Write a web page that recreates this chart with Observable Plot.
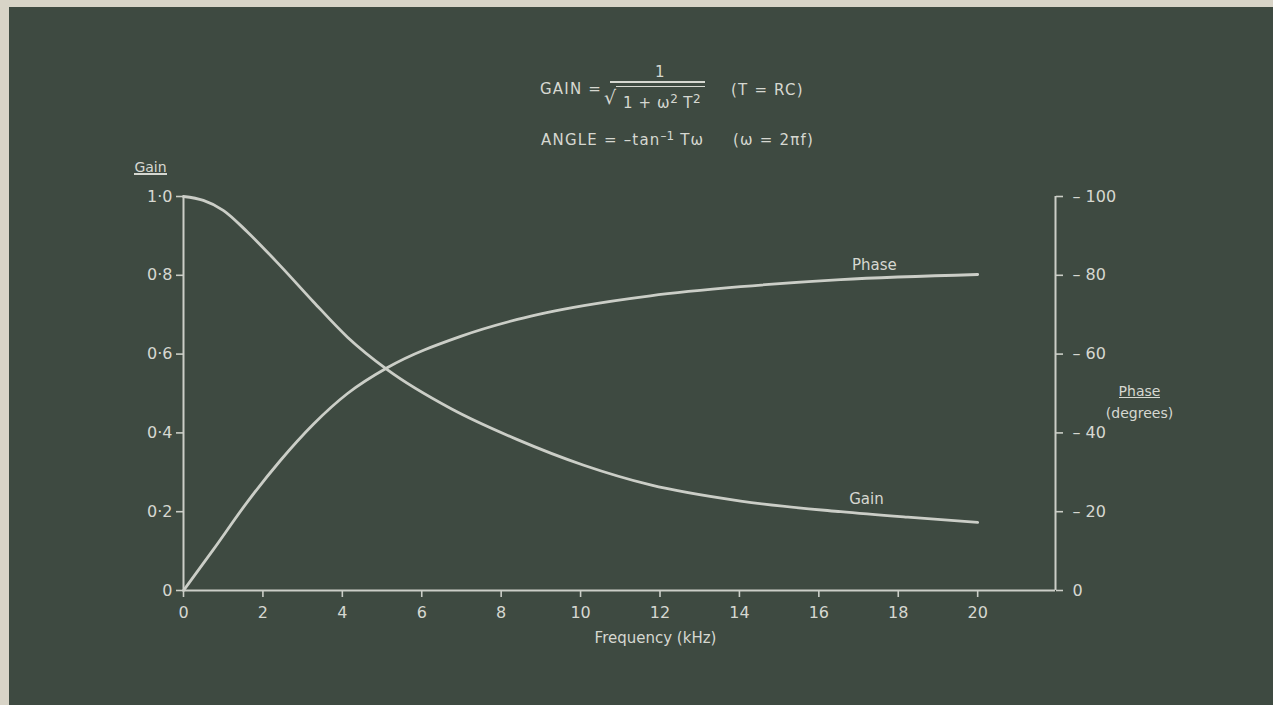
<!DOCTYPE html>
<html>
<head>
<meta charset="utf-8">
<script src="https://cdn.jsdelivr.net/npm/d3@7"></script>
<script src="https://cdn.jsdelivr.net/npm/@observablehq/plot@0.6"></script>
<style>
  html, body { margin: 0; padding: 0; background: #3e4a41; }
  #wrap { position: relative; width: 1273px; height: 705px; overflow: hidden; background: #3e4a41; }
  #wrap svg { position: absolute; left: 0; top: 0; }
  .fx { position: absolute; font-family: "DejaVu Sans", sans-serif; font-size: 15px; color: #d6d8d1;
        letter-spacing: 1.2px; white-space: nowrap; line-height: 1; }
  .fx sup { font-size: 12px; position: relative; top: -3px; vertical-align: top; letter-spacing: 0; }
  .bar { position: absolute; background: #d6d8d1; height: 1.6px; }
  .edge { position: absolute; background: #d8d4c7; }
</style>
</head>
<body>
<div id="wrap"></div>
<script>
// ---- data ----
const gainFreq   = [0, 0.5, 1.0, 1.61, 2.44, 3.27, 4.13, 5.14, 6.73, 8.41, 10.08, 11.76, 14.03, 16.55, 18.24, 20];
const gainValues = [1.0, 0.99, 0.965, 0.91, 0.824, 0.733, 0.643, 0.560, 0.462, 0.383, 0.318, 0.268, 0.227, 0.200, 0.186, 0.173];

const phaseFreq   = [0, 0.76, 1.61, 2.44, 3.27, 4.13, 5.14, 6.98, 8.41, 10.08, 11.76, 14.03, 16.55, 20];
const phaseValues = [0, 10.5, 22.5, 33.0, 42.2, 50.0, 56.6, 64.5, 68.8, 72.3, 74.8, 77.1, 78.9, 80.2]; // degrees

const freqTicks      = [0, 2, 4, 6, 8, 10, 12, 14, 16, 18, 20];
const gainTicks      = [0, 0.2, 0.4, 0.6, 0.8, 1.0];
const gainTickLabels = ["0", "0·2", "0·4", "0·6", "0·8", "1·0"];
const phaseTicks      = [0, 20, 40, 60, 80, 100];
const phaseTickLabels = ["0", "– 20", "– 40", "– 60", "– 80", "– 100"];

const curveLabelText  = ["Phase", "Gain"];
const curveLabelFreq  = [17.4, 17.2];
const curveLabelValue = [82.6, 0.232]; // phase label in degrees, gain label in gain units

const freqMax = 21.96; // right-hand phase axis position (kHz)
const phaseFull = 100;  // 100 degrees at the top of the gain scale

// ---- build tables ----
const gainData  = gainFreq.map((f, i) => ({f, v: gainValues[i]}));
const phaseData = phaseFreq.map((f, i) => ({f, v: phaseValues[i] / phaseFull}));
const labelData = [
  {f: curveLabelFreq[0], v: curveLabelValue[0] / phaseFull, t: curveLabelText[0]},
  {f: curveLabelFreq[1], v: curveLabelValue[1], t: curveLabelText[1]}
];

const INK = "#d6d8d1";
const LINE = "#cbcec7";

const chart = Plot.plot({
  width: 1273,
  height: 705,
  marginLeft: 183,
  marginRight: 218,
  marginTop: 196,
  marginBottom: 115,
  style: {background: "transparent", color: INK, fontFamily: "DejaVu Sans, sans-serif", fontSize: "16px", overflow: "visible"},
  x: {domain: [0, freqMax], label: null},
  y: {domain: [0, 1], label: null},
  marks: [
    // axis lines
    Plot.ruleY([0], {x1: 0, x2: freqMax, stroke: LINE, strokeWidth: 2}),
    Plot.ruleX([0], {y1: 0, y2: 1, stroke: LINE, strokeWidth: 2}),
    Plot.ruleX([freqMax], {y1: 0, y2: 1, stroke: LINE, strokeWidth: 2}),
    // axes
    Plot.axisX({ticks: freqTicks, tickFormat: d => String(d), tickSize: 7, tickPadding: 9, stroke: LINE, strokeWidth: 1.6, fill: INK, fontSize: 16, label: null}),
    Plot.axisY({anchor: "left", ticks: gainTicks, tickFormat: d => gainTickLabels[Math.round(d * 5)], tickSize: 7, tickPadding: 4, stroke: LINE, strokeWidth: 1.6, fill: INK, fontSize: 16, label: null}),
    Plot.axisY({anchor: "right", ticks: phaseTicks.map(p => p / phaseFull), tickFormat: d => phaseTickLabels[Math.round(d * 5)], tickSize: 7, tickPadding: 10, stroke: LINE, strokeWidth: 1.6, fill: INK, fontSize: 16, label: null}),
    // curves
    Plot.line(gainData, {x: "f", y: "v", curve: "monotone-x", stroke: LINE, strokeWidth: 2.8}),
    Plot.line(phaseData, {x: "f", y: "v", curve: "monotone-x", stroke: LINE, strokeWidth: 2.8}),
    // curve labels
    Plot.text(labelData, {x: "f", y: "v", text: "t", fill: INK, fontSize: 15, textAnchor: "middle"}),
    // axis titles
    Plot.text(["Gain"], {frameAnchor: "top-left", dx: -33, dy: -34, fill: INK, fontSize: 14, textAnchor: "middle"}),
    Plot.text(["Phase"], {frameAnchor: "right", dx: 84, dy: -2, fill: INK, fontSize: 14, textAnchor: "middle"}),
    Plot.text(["(degrees)"], {frameAnchor: "right", dx: 84, dy: 20, fill: INK, fontSize: 14, textAnchor: "middle"}),
    Plot.text(["Frequency (kHz)"], {frameAnchor: "bottom", dx: 36, dy: 52, fill: INK, fontSize: 15, textAnchor: "middle"})
  ]
});

const wrap = document.getElementById("wrap");
wrap.appendChild(chart);

// underline the two axis titles ("Gain" highest on the page, "Phase" furthest right)
const texts = Array.from(chart.querySelectorAll("text"));
const wrapRect = wrap.getBoundingClientRect();
function underline(el) {
  if (!el) return;
  const r = el.getBoundingClientRect();
  const d = document.createElement("div");
  d.className = "bar";
  d.style.left = (r.left - wrapRect.left) + "px";
  d.style.width = r.width + "px";
  d.style.top = (r.bottom - wrapRect.top - 2) + "px";
  d.style.height = "1.3px";
  wrap.appendChild(d);
}
const gainTexts = texts.filter(t => t.textContent === "Gain");
const phaseTexts = texts.filter(t => t.textContent === "Phase");
underline(gainTexts.sort((a, b) => a.getBoundingClientRect().top - b.getBoundingClientRect().top)[0]);
underline(phaseTexts.sort((a, b) => b.getBoundingClientRect().left - a.getBoundingClientRect().left)[0]);

// scanned-page edges (top & left)
wrap.insertAdjacentHTML("beforeend", `
  <div class="edge" style="left:0;top:0;width:9px;height:705px"></div>
  <div class="edge" style="left:0;top:0;width:1273px;height:7px"></div>
`);

// formula block
wrap.insertAdjacentHTML("beforeend", `
  <div class="fx" style="left:540px;top:82px">GAIN =</div>
  <div class="fx" style="left:655px;top:65px">1</div>
  <div class="bar" style="left:610px;top:81px;width:95px"></div>
  <div class="fx" style="left:604px;top:88px;font-size:19px;letter-spacing:0">√</div>
  <div class="bar" style="left:616px;top:86px;width:89px;height:1.3px"></div>
  <div class="fx" style="left:623px;top:96px;letter-spacing:0.6px">1 + ω<sup>2</sup> T<sup>2</sup></div>
  <div class="fx" style="left:731px;top:83px">(T = RC)</div>
  <div class="fx" style="left:541px;top:133px">ANGLE = –tan<sup>–1</sup> Tω</div>
  <div class="fx" style="left:733px;top:133px">(ω = 2πf)</div>
`);
</script>
</body>
</html>
